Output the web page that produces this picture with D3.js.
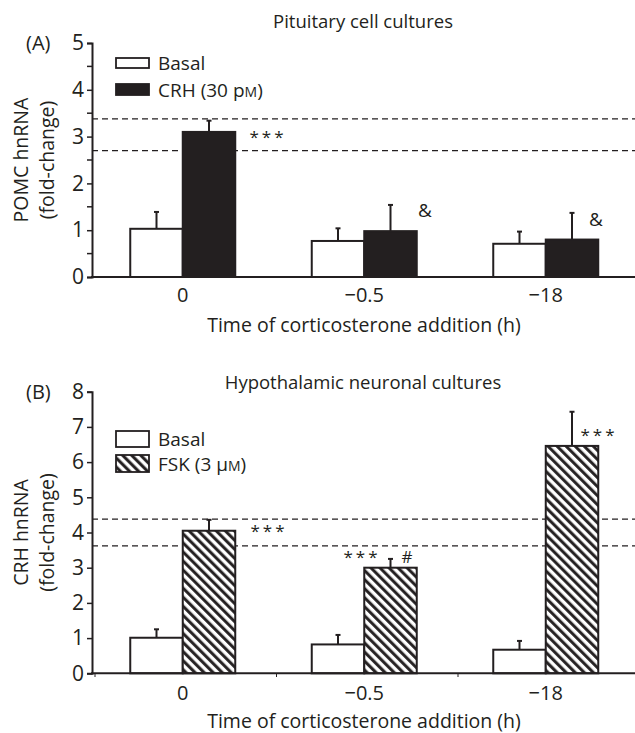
<!DOCTYPE html>
<html>
<head>
<meta charset="utf-8">
<script src="https://cdn.jsdelivr.net/npm/d3@7"></script>
<style>
  body { margin: 0; background: #fff; }
  svg text { font-family: "Open Sans", "Noto Sans", sans-serif; fill: #231f20; }
</style>
</head>
<body>
<div id="chart"></div>
<script>
// data
var groups = ["0", "\u22120.5", "\u221218"];
var seriesA = ["Basal", "CRH"];
var basalA = [1.03, 0.77, 0.71];
var basalErrA = [0.36, 0.27, 0.26];
var crhA = [3.10, 0.98, 0.80];
var crhErrA = [0.24, 0.56, 0.57];
var dashA = [3.38, 2.70];
var marksA = ["***", "&", "&"];

var seriesB = ["Basal", "FSK"];
var basalB = [1.01, 0.82, 0.67];
var basalErrB = [0.24, 0.27, 0.25];
var fskB = [4.05, 3.00, 6.46];
var fskErrB = [0.31, 0.25, 0.97];
var dashB = [4.38, 3.62];
var marksB = ["***", "***", "#", "***"];
var ticksA = [0, 1, 2, 3, 4, 5];
var ticksB = [0, 1, 2, 3, 4, 5, 6, 7, 8];

var width = 635, height = 733;
var axisColor = "#231f20";

var svg = d3.select("#chart")
  .append("svg")
  .attr("width", width)
  .attr("height", height);

// hatch for FSK bars
var defs = svg.append("defs");
var pat = defs.append("pattern")
  .attr("id", "hatch")
  .attr("patternUnits", "userSpaceOnUse")
  .attr("width", 6.4)
  .attr("height", 6.4)
  .attr("patternTransform", "rotate(-45)");
pat.append("rect").attr("width", 6.4).attr("height", 6.4).attr("fill", "white");
pat.append("line")
  .attr("x1", 1.6).attr("y1", 0).attr("x2", 1.6).attr("y2", 6.4)
  .attr("stroke", axisColor)
  .attr("stroke-width", 3);

var xScale = d3.scaleBand()
  .domain(groups)
  .range([92, 636.5]);

function drawPanel(p) {
  var g = svg.append("g");

  var yScale = d3.scaleLinear()
    .domain([0, p.ymax])
    .range([p.y0, p.ytop]);

  var inner = d3.scaleBand()
    .domain(p.series)
    .range([-52.5, 52.5]);

  var cx = d => xScale(d.grp) + xScale.bandwidth() / 2 + inner(d.s) + inner.bandwidth() / 2;

  // dashed reference lines
  g.selectAll(".dash")
    .data(p.dash)
    .enter()
    .append("line")
    .attr("x1", 92)
    .attr("x2", width)
    .attr("y1", d => yScale(d))
    .attr("y2", d => yScale(d))
    .attr("stroke", axisColor)
    .attr("stroke-width", 1.3)
    .attr("stroke-dasharray", "6,4");

  var rows = [];
  groups.forEach((grp, i) => {
    rows.push({ grp: grp, s: p.series[0], v: p.v1[i], e: p.e1[i], fill: "white" });
    rows.push({ grp: grp, s: p.series[1], v: p.v2[i], e: p.e2[i], fill: p.fill2 });
  });

  // error bars (upper only)
  g.selectAll(".err")
    .data(rows)
    .enter()
    .append("line")
    .attr("x1", cx)
    .attr("x2", cx)
    .attr("y1", d => yScale(d.v))
    .attr("y2", d => yScale(d.v + d.e))
    .attr("stroke", axisColor)
    .attr("stroke-width", 2);

  g.selectAll(".cap")
    .data(rows)
    .enter()
    .append("line")
    .attr("x1", d => cx(d) - 2.5)
    .attr("x2", d => cx(d) + 2.5)
    .attr("y1", d => yScale(d.v + d.e))
    .attr("y2", d => yScale(d.v + d.e))
    .attr("stroke", axisColor)
    .attr("stroke-width", 2);

  // bars
  g.selectAll(".bar")
    .data(rows)
    .enter()
    .append("rect")
    .attr("x", d => xScale(d.grp) + xScale.bandwidth() / 2 + inner(d.s))
    .attr("y", d => yScale(d.v))
    .attr("width", inner.bandwidth())
    .attr("height", d => yScale(0) - yScale(d.v))
    .attr("fill", d => d.fill)
    .attr("stroke", axisColor)
    .attr("stroke-width", 2);

  // y axis
  var yAxis = d3.axisLeft(yScale)
    .tickValues(p.ticks)
    .tickSize(5)
    .tickPadding(3)
    .tickFormat(d => d);
  var ya = g.append("g")
    .attr("transform", "translate(92,0)")
    .call(yAxis);
  ya.select(".domain").attr("stroke-width", 2).attr("stroke", axisColor);
  ya.selectAll(".tick line").attr("stroke-width", 1.5).attr("stroke", axisColor);
  ya.selectAll(".tick text")
    .style("font-size", "21px")
    .style("font-family", "'Open Sans', sans-serif")
    .attr("fill", axisColor);

  if (p.minor) {
    g.selectAll(".minor")
      .data(p.minor)
      .enter()
      .append("line")
      .attr("x1", 87)
      .attr("x2", 92)
      .attr("y1", d => yScale(d))
      .attr("y2", d => yScale(d))
      .attr("stroke", axisColor)
      .attr("stroke-width", 1.5);
  }

  // x axis
  g.append("line")
    .attr("x1", 91)
    .attr("x2", width)
    .attr("y1", yScale(0))
    .attr("y2", yScale(0))
    .attr("stroke", axisColor)
    .attr("stroke-width", 2);

  g.selectAll(".xlab")
    .data(groups)
    .enter()
    .append("text")
    .attr("x", d => xScale(d) + xScale.bandwidth() / 2)
    .attr("y", yScale(0) + p.tickDy)
    .attr("text-anchor", "middle")
    .style("font-size", "20px")
    .text(d => d);

  g.append("text")
    .attr("x", 364)
    .attr("y", yScale(0) + 55)
    .attr("text-anchor", "middle")
    .style("font-size", "19.5px")
    .text("Time of corticosterone addition (h)");

  // title and panel letter
  g.append("text")
    .attr("x", 363)
    .attr("y", p.titleY)
    .attr("text-anchor", "middle")
    .style("font-size", "18.5px")
    .text(p.title);

  g.append("text")
    .attr("x", 26)
    .attr("y", yScale(p.ymax) + 7)
    .style("font-size", "20px")
    .text(p.letter);

  // y label, two lines
  var cy = (p.y0 + p.ytop) / 2;
  g.append("text")
    .attr("transform", `translate(28,${cy}) rotate(-90)`)
    .attr("text-anchor", "middle")
    .style("font-size", "19.5px")
    .text(p.ylab);
  g.append("text")
    .attr("transform", `translate(54,${cy}) rotate(-90)`)
    .attr("text-anchor", "middle")
    .style("font-size", "19.5px")
    .text("(fold-change)");

  // legend
  p.series.forEach((s, i) => {
    g.append("rect")
      .attr("x", 116)
      .attr("y", p.legY[i])
      .attr("width", 33)
      .attr("height", p.legH[i])
      .attr("fill", i === 0 ? "white" : p.fill2)
      .attr("stroke", axisColor)
      .attr("stroke-width", 1.8);
  });
  g.append("text")
    .attr("x", 158)
    .attr("y", p.legY[0] + p.legH[0] / 2 + 7)
    .style("font-size", "19px")
    .text(p.series[0]);
  var t2 = g.append("text")
    .attr("x", 158)
    .attr("y", p.legY[1] + p.legH[1] / 2 + 7)
    .style("font-size", "19px")
    .text(p.leg2a);
  t2.append("tspan").style("font-size", "14px").text("M");
  t2.append("tspan").text(")");

  // significance marks
  p.marks.forEach(m => {
    g.append("text")
      .attr("x", m.x)
      .attr("y", yScale(m.y))
      .attr("text-anchor", "middle")
      .style("font-size", m.size)
      .style("letter-spacing", m.ls || "0px")
      .text(m.t);
  });
}

drawPanel({
  y0: 277, ytop: 43, ymax: 5, ticks: ticksA, minor: [0.5, 1.5, 2.5, 3.5, 4.5],
  series: seriesA, v1: basalA, e1: basalErrA, v2: crhA, e2: crhErrA,
  fill2: axisColor, dash: dashA, tickDy: 25,
  title: "Pituitary cell cultures", titleY: 28, letter: "(A)",
  ylab: "POMC hnRNA", legY: [58, 84], legH: [10, 11],
  leg2a: "CRH (30 p",
  marks: [
    { x: 268, y: 2.86, t: marksA[0], size: "17px", ls: "3px" },
    { x: 425, y: 1.28, t: marksA[1], size: "19px" },
    { x: 596, y: 1.1, t: marksA[2], size: "19px" }
  ]
});

drawPanel({
  y0: 673.3, ytop: 391.7, ymax: 8, ticks: ticksB,
  series: seriesB, v1: basalB, e1: basalErrB, v2: fskB, e2: fskErrB,
  fill2: "url(#hatch)", dash: dashB, tickDy: 27,
  title: "Hypothalamic neuronal cultures", titleY: 389, letter: "(B)",
  ylab: "CRH hnRNA", legY: [431, 455], legH: [16, 17],
  leg2a: "FSK (3 \u03bc",
  marks: [
    { x: 269, y: 3.87, t: marksB[0], size: "17px", ls: "3px" },
    { x: 362, y: 3.13, t: marksB[1], size: "17px", ls: "3px" },
    { x: 407, y: 3.13, t: marksB[2], size: "17px" },
    { x: 599, y: 6.6, t: marksB[3], size: "17px", ls: "3px" }
  ]
});

// small x-axis ticks between groups, panel B
svg.selectAll(".btick")
  .data(groups)
  .enter()
  .append("line")
  .attr("x1", d => xScale(d) + 3)
  .attr("x2", d => xScale(d) + 3)
  .attr("y1", 674)
  .attr("y2", 677)
  .attr("stroke", axisColor)
  .attr("stroke-width", 1);
</script>
</body>
</html>
